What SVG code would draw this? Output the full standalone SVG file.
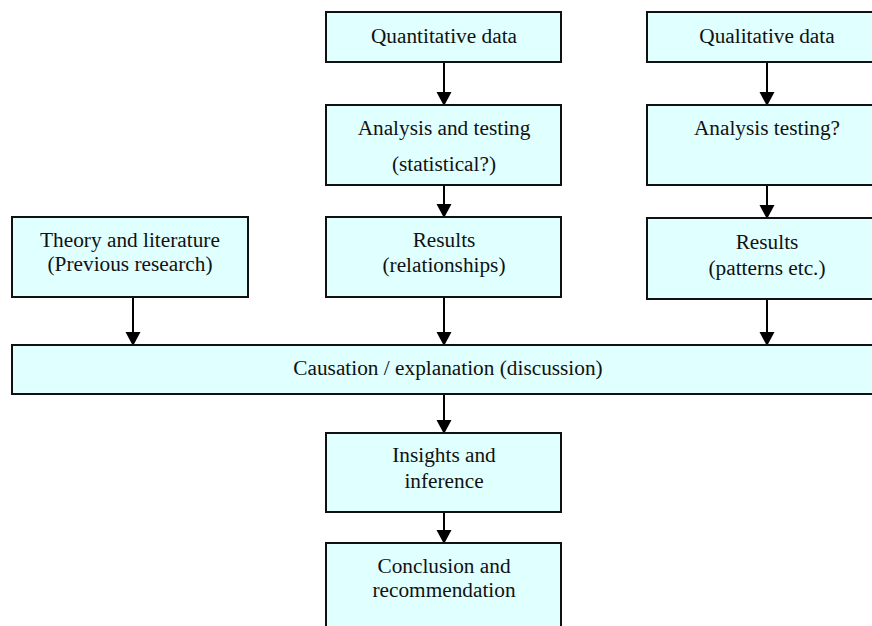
<svg xmlns="http://www.w3.org/2000/svg" width="872" height="626" viewBox="0 0 872 626">
  <style>
    .box { fill: #E0FFFF; stroke: #111; stroke-width: 2; }
    .lbl { font-family: "Liberation Serif", "Times New Roman", serif; font-size: 21.3px; fill: #111; text-anchor: middle; }
    .edge { stroke: #000; stroke-width: 2; fill: none; }
    .head { fill: #000; }
  </style>
  <rect width="872" height="626" fill="#fff"/>

  <!-- connectors: shaft + filled triangular head -->
  <g id="connectors">
    <line class="edge" x1="444" y1="62" x2="444" y2="92"/>
    <polygon class="head" points="436.5,92 451.5,92 444,106"/>
    <line class="edge" x1="444" y1="185" x2="444" y2="204"/>
    <polygon class="head" points="436.5,204 451.5,204 444,218"/>

    <line class="edge" x1="767" y1="62" x2="767" y2="92"/>
    <polygon class="head" points="759.5,92 774.5,92 767,106"/>
    <line class="edge" x1="767" y1="185" x2="767" y2="205"/>
    <polygon class="head" points="759.5,205 774.5,205 767,219"/>

    <line class="edge" x1="133" y1="297" x2="133" y2="332"/>
    <polygon class="head" points="125.5,332 140.5,332 133,346"/>
    <line class="edge" x1="444" y1="297" x2="444" y2="332"/>
    <polygon class="head" points="436.5,332 451.5,332 444,346"/>
    <line class="edge" x1="767" y1="299" x2="767" y2="332"/>
    <polygon class="head" points="759.5,332 774.5,332 767,346"/>

    <line class="edge" x1="444" y1="394" x2="444" y2="420"/>
    <polygon class="head" points="436.5,420 451.5,420 444,434"/>
    <line class="edge" x1="444" y1="512" x2="444" y2="530"/>
    <polygon class="head" points="436.5,530 451.5,530 444,544"/>
  </g>

  <g id="quantitative-data">
    <rect class="box" x="326" y="12" width="235" height="50"/>
    <text class="lbl" x="444" y="43">Quantitative data</text>
  </g>

  <g id="qualitative-data">
    <rect class="box" x="647" y="12" width="240" height="50"/>
    <text class="lbl" x="767" y="43">Qualitative data</text>
  </g>

  <g id="analysis-testing-quant">
    <rect class="box" x="326" y="105" width="235" height="80"/>
    <text class="lbl" x="444" y="135">Analysis and testing</text>
    <text class="lbl" x="444" y="171">(statistical?)</text>
  </g>

  <g id="analysis-testing-qual">
    <rect class="box" x="647" y="105" width="240" height="80"/>
    <text class="lbl" x="767" y="135">Analysis testing?</text>
  </g>

  <g id="theory-literature">
    <rect class="box" x="12" y="217" width="236" height="80"/>
    <text class="lbl" x="130" y="247">Theory and literature</text>
    <text class="lbl" x="130" y="271">(Previous research)</text>
  </g>

  <g id="results-relationships">
    <rect class="box" x="326" y="217" width="235" height="80"/>
    <text class="lbl" x="444" y="247">Results</text>
    <text class="lbl" x="444" y="272">(relationships)</text>
  </g>

  <g id="results-patterns">
    <rect class="box" x="647" y="218" width="240" height="81"/>
    <text class="lbl" x="767" y="249">Results</text>
    <text class="lbl" x="767" y="275">(patterns etc.)</text>
  </g>

  <g id="causation">
    <rect class="box" x="12" y="345" width="875" height="49"/>
    <text class="lbl" x="448" y="375">Causation / explanation (discussion)</text>
  </g>

  <g id="insights">
    <rect class="box" x="326" y="433" width="235" height="79"/>
    <text class="lbl" x="444" y="462">Insights and</text>
    <text class="lbl" x="444" y="488">inference</text>
  </g>

  <g id="conclusion">
    <rect class="box" x="326" y="543" width="235" height="100"/>
    <text class="lbl" x="444" y="573">Conclusion and</text>
    <text class="lbl" x="444" y="597">recommendation</text>
  </g>
</svg>
